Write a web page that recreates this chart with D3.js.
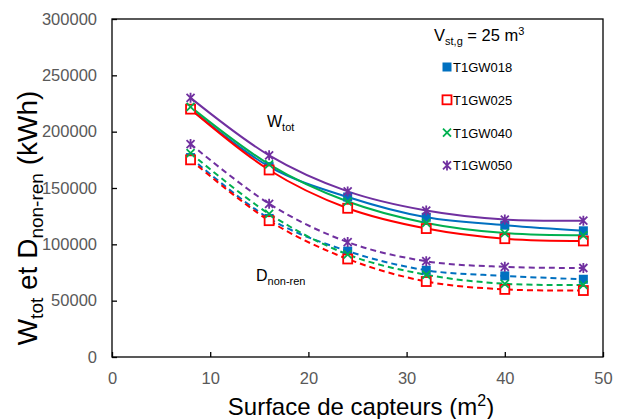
<!DOCTYPE html>
<html><head><meta charset="utf-8">
<script src="https://cdn.jsdelivr.net/npm/d3@7"></script>
<style>body{margin:0;background:#fff}svg{display:block;font-family:"Liberation Sans",Arial,sans-serif}</style>
</head><body><svg id="c" width="617" height="419"></svg>
<script>
const surfaces = [8, 16, 24, 32, 40, 48];
const seriesNames = ["T1GW018", "T1GW025", "T1GW040", "T1GW050"];
const seriesColors = ["#0070C0", "#FF0000", "#00B050", "#7030A0"];
const wtot018 = [220000, 169000, 142000, 124000, 117000, 112000];
const wtot025 = [220000, 166000, 132000, 114000, 105000, 103000];
const wtot040 = [222000, 171000, 138000, 119000, 110000, 108000];
const wtot050 = [230000, 179000, 147000, 130000, 122000, 121000];
const dnr018 = [177000, 123000, 94000, 77000, 72000, 69000];
const dnr025 = [175000, 121000, 87000, 67000, 60000, 59000];
const dnr040 = [181000, 127000, 91000, 73000, 65000, 64000];
const dnr050 = [189000, 136000, 102000, 85000, 80000, 79000];
const xTicks = [0, 10, 20, 30, 40, 50];
const yTicks = [0, 50000, 100000, 150000, 200000, 250000, 300000];

const wtot = [wtot018, wtot025, wtot040, wtot050];
const dnr = [dnr018, dnr025, dnr040, dnr050];
const svg = d3.select("#c");
const L = 112, R = 603, T = 19, B = 357;
const x = d3.scaleLinear().domain([0, 50]).range([L, R]);
const y = d3.scaleLinear().domain([0, 300000]).range([B, T]);

svg.append("rect").attr("x", L).attr("y", T).attr("width", R - L).attr("height", B - T)
  .attr("fill", "none").attr("stroke", "#000").attr("stroke-width", 1.3);

const xa = svg.append("g").attr("transform", `translate(0,${B})`)
  .call(d3.axisBottom(x).tickValues(xTicks).tickSize(-5).tickPadding(15).tickFormat(d3.format("d")));
const ya = svg.append("g").attr("transform", `translate(${L},0)`)
  .call(d3.axisLeft(y).tickValues(yTicks).tickSize(-5).tickPadding(15).tickFormat(d3.format("d")));
[xa, ya].forEach(a => {
  a.select(".domain").remove();
  a.selectAll("line").attr("stroke", "#000").attr("stroke-width", 1.3);
  a.selectAll("text").attr("fill", "#595959").style("font-size", "16.5px").style("font-family", "Liberation Sans, Arial, sans-serif");
});

const line = d3.line().x((d, i) => x(surfaces[i])).y(d => y(d)).curve(d3.curveCatmullRom.alpha(0));

function marker(g, k, cx, cy) {
  const c = seriesColors[k];
  if (k === 0) {
    g.append("rect").attr("x", cx - 4.5).attr("y", cy - 4.5).attr("width", 9).attr("height", 9).attr("fill", c);
  } else if (k === 1) {
    g.append("rect").attr("x", cx - 4.5).attr("y", cy - 4.5).attr("width", 9).attr("height", 9)
      .attr("fill", "#fff").attr("stroke", c).attr("stroke-width", 1.8);
  } else if (k === 2) {
    g.append("path").attr("d", `M${cx-4},${cy-4}L${cx+4},${cy+4}M${cx-4},${cy+4}L${cx+4},${cy-4}`)
      .attr("stroke", c).attr("stroke-width", 1.8).attr("fill", "none");
  } else {
    g.append("path").attr("d", `M${cx-4},${cy-4}L${cx+4},${cy+4}M${cx-4},${cy+4}L${cx+4},${cy-4}M${cx},${cy-5}L${cx},${cy+5}`)
      .attr("stroke", c).attr("stroke-width", 1.8).attr("fill", "none");
  }
}

const order = [0, 1, 2, 3];
order.forEach(k => {
  svg.append("path").attr("d", line(dnr[k])).attr("fill", "none").attr("stroke", seriesColors[k])
    .attr("stroke-width", 2).attr("stroke-dasharray", "6,4");
});
order.forEach(k => {
  svg.append("path").attr("d", line(wtot[k])).attr("fill", "none").attr("stroke", seriesColors[k])
    .attr("stroke-width", 2);
});
order.forEach(k => {
  const g = svg.append("g");
  surfaces.forEach((s, i) => { marker(g, k, x(s), y(wtot[k][i])); marker(g, k, x(s), y(dnr[k][i])); });
});

const t1 = svg.append("text").attr("x", 267).attr("y", 127).attr("fill", "#000").style("font-size", "16px");
t1.append("tspan").text("W");
t1.append("tspan").attr("dy", 4).style("font-size", "11px").text("tot");
const t2 = svg.append("text").attr("x", 256).attr("y", 281).attr("fill", "#000").style("font-size", "16px");
t2.append("tspan").text("D");
t2.append("tspan").attr("dy", 4).style("font-size", "11px").text("non-ren");

const lt = svg.append("text").attr("x", 434).attr("y", 41).attr("fill", "#000").style("font-size", "16.5px");
lt.append("tspan").text("V");
lt.append("tspan").attr("dy", 4).style("font-size", "11px").text("st,g");
lt.append("tspan").attr("dy", -4).text(" = 25 m");
lt.append("tspan").attr("dy", -6).style("font-size", "11px").text("3");
seriesNames.forEach((n, k) => {
  const yy = 67 + k * 32.8;
  const g = svg.append("g");
  marker(g, k, 447, yy);
  svg.append("text").attr("x", 453).attr("y", yy + 5).attr("fill", "#000").style("font-size", "13px").text(n);
});

const xt = svg.append("text").attr("x", 361).attr("y", 415).attr("text-anchor", "middle").attr("fill", "#000").style("font-size", "24px");
xt.append("tspan").text("Surface de capteurs (m");
xt.append("tspan").attr("dy", -9).style("font-size", "16px").text("2");
xt.append("tspan").attr("dy", 9).text(")");
const yt = svg.append("text").attr("transform", "translate(37,218) rotate(-90)").attr("text-anchor", "middle").attr("fill", "#000").style("font-size", "28px");
yt.append("tspan").text("W");
yt.append("tspan").attr("dy", 6).style("font-size", "19px").text("tot");
yt.append("tspan").attr("dy", -6).text(" et D");
yt.append("tspan").attr("dy", 6).style("font-size", "19px").text("non-ren");
yt.append("tspan").attr("dy", -6).text(" (kWh)");
</script></body></html>
